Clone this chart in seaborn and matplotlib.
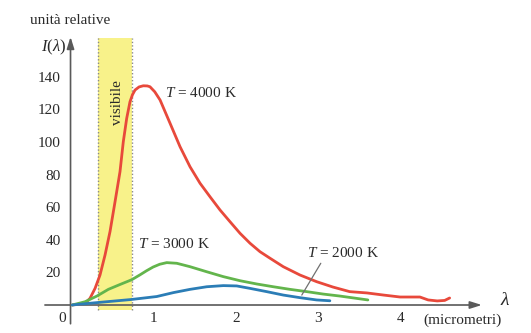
import matplotlib
matplotlib.use("Agg")
import matplotlib.pyplot as plt
import pandas as pd
import seaborn as sns

# Blackbody spectral intensity (relative units) versus wavelength in micrometres
lam_4000 = [0.02, 0.115, 0.176, 0.236, 0.297, 0.357, 0.418, 0.478, 0.539, 0.599,
            0.639, 0.680, 0.720, 0.750, 0.781, 0.830, 0.881, 0.930, 0.962, 1.020,
            1.084, 1.205, 1.326, 1.447,
            1.568, 1.689, 1.810, 1.931, 2.052, 2.173, 2.294, 2.415, 2.576, 2.778,
            2.98, 3.178, 3.38, 3.589, 3.79, 3.99, 4.23, 4.33, 4.44, 4.53, 4.59]
int_4000 = [0.0, 0.6, 1.0, 4.1, 10.2, 18.4, 30.7, 45.0, 63.4, 81.8,
            100.2, 114.5, 124.7, 129.0, 131.9, 133.8, 134.5, 134.4, 133.9, 130.8,
            125.8, 111.5, 97.1, 84.8,
            74.7, 66.4, 58.3, 51.1, 44.0, 37.9, 32.7, 28.7, 23.5, 18.4,
            14.3, 11.0, 8.2, 7.4, 6.1, 4.9, 4.9, 3.1, 2.5, 2.8, 4.3]

lam_3000 = [0.02, 0.176, 0.32, 0.458, 0.60, 0.741, 0.841, 0.92, 1.0, 1.08, 1.165,
            1.286, 1.447, 1.649, 1.850, 2.052, 2.254, 2.455, 2.657, 2.86, 3.06,
            3.26, 3.60]
int_3000 = [0.0, 2.0, 5.5, 9.6, 12.6, 15.5, 18.5, 21.0, 23.3, 25.0, 26.0,
            25.6, 23.5, 20.4, 17.4, 14.9, 12.9, 11.2, 9.6, 8.2, 6.7,
            5.5, 3.1]

lam_2000 = [0.02, 0.24, 0.48, 0.72, 0.841, 1.044, 1.245, 1.447, 1.649, 1.850,
            2.012, 2.173, 2.375, 2.576, 2.778, 2.98, 3.14]
int_2000 = [0.0, 1.1, 2.2, 3.3, 4.0, 5.2, 7.6, 9.6, 11.2, 11.9,
            11.7, 10.2, 8.2, 6.1, 4.5, 3.1, 2.6]

curve_names = ["4000 K", "3000 K", "2000 K"]
curve_colors = ["#e8493b", "#63b54c", "#2b7db6"]

x_ticks = [1, 2, 3, 4]
y_ticks = [20, 40, 60, 80, 100, 120, 140]

# visible band limits (micrometres)
visible_band = (0.333, 0.741)

df = pd.concat([
    pd.DataFrame({"lam": lam_4000, "I": int_4000, "T": curve_names[0]}),
    pd.DataFrame({"lam": lam_3000, "I": int_3000, "T": curve_names[1]}),
    pd.DataFrame({"lam": lam_2000, "I": int_2000, "T": curve_names[2]}),
], ignore_index=True)

sns.set_style("white")
plt.rcParams["font.family"] = ["Liberation Serif", "DejaVu Serif"]
plt.rcParams["mathtext.fontset"] = "custom"
plt.rcParams["mathtext.rm"] = "Liberation Serif"
plt.rcParams["mathtext.it"] = "Liberation Serif:italic"

axis_grey = "#5a5a5a"
text_col = "#2a2a2a"

fig = plt.figure(figsize=(5.31, 3.33), dpi=100)
ax = fig.add_axes([0.0706, 0.01066, 0.8866, 0.9055])
ax.set_xlim(-0.4, 5.3)
ax.set_ylim(-15, 170)

# shaded visible region with dotted borders
ax.fill_between(list(visible_band), -3, 163.8, color="#f8f28a", lw=0, zorder=0)
for xb in visible_band:
    ax.plot([xb, xb], [-3, 163.8], ls=(0, (1, 1.5)), color="#8a8a8a", lw=1.0, zorder=1)

sns.lineplot(data=df, x="lam", y="I", hue="T", hue_order=curve_names,
             palette=curve_colors, sort=False, estimator=None, legend=False,
             lw=2.0, ax=ax, zorder=3)

# axes drawn as arrows through the origin
for s in ax.spines.values():
    s.set_visible(False)
ax.spines["left"].set_position(("data", 0))
ax.spines["bottom"].set_position(("data", 0))
arrow = dict(arrowstyle="-|>,head_length=0.7,head_width=0.22", color=axis_grey,
             lw=1.2, shrinkA=0, shrinkB=0)
ax.annotate("", xy=(4.98, 0), xytext=(-0.31, 0), arrowprops=arrow, zorder=2)
ax.annotate("", xy=(0, 164.5), xytext=(0, -11.5), arrowprops=arrow, zorder=2)

ax.set_xticks(x_ticks)
ax.set_yticks(y_ticks)
ax.set_xticklabels([str(v) for v in x_ticks])
ax.set_yticklabels([str(v) for v in y_ticks])
ax.tick_params(direction="inout", length=9.4, width=1.0, color=axis_grey,
               labelsize=11, labelcolor=text_col)
ax.tick_params(axis="y", pad=2.2)
ax.tick_params(axis="x", pad=0.6)
ax.set_xlabel("")
ax.set_ylabel("")

ax.text(-0.107, -8, "0", fontsize=11, color=text_col, ha="center", va="center")
ax.text(-0.006, 174.8, "unità relative", fontsize=11, color=text_col,
        ha="center", va="center")
ax.text(-0.21, 158, r"$I(\lambda)$", fontsize=12, color=text_col,
        ha="center", va="center")
ax.text(5.26, 2.5, r"$\lambda$", fontsize=14, color=text_col,
        ha="center", va="center")
ax.text(4.75, -9.2, "(micrometri)", fontsize=11, color=text_col,
        ha="center", va="center")

ax.text(1.14, 130, r"$T$ = 4000 K", fontsize=11, color=text_col, ha="left", va="center")
ax.text(0.82, 37.2, r"$T$ = 3000 K", fontsize=11, color=text_col, ha="left", va="center")
ax.text(2.86, 32.1, r"$T$ = 2000 K", fontsize=11, color=text_col, ha="left", va="center")
ax.plot([3.03, 2.80], [25.6, 6.1], color="#707070", lw=0.9, zorder=4)

ax.text(0.567, 124.5, "visibile", fontsize=11, color=text_col, rotation=90,
        ha="center", va="center")

fig.savefig("out.png", dpi=100)
